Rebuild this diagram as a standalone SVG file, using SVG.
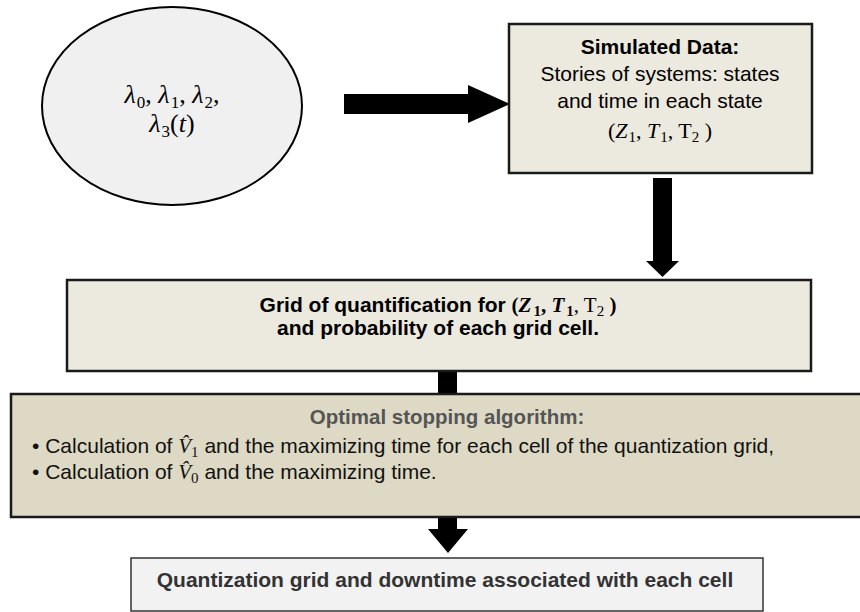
<svg xmlns="http://www.w3.org/2000/svg" width="860" height="612" viewBox="0 0 860 612">
<style>
.sans{font-family:"Liberation Sans",Arial,sans-serif;}
.math{font-family:"Liberation Serif","Times New Roman",serif;font-style:italic;}
.up{font-style:normal;}
.b{font-weight:bold;}
.box{stroke:#1a1a1a;stroke-width:2.5;}
.arrow{fill:#000;stroke:none;}
</style>
<rect width="860" height="612" fill="#fff"/>
<g id="connectors">
  <polygon class="arrow" points="344,94 468,94 468,85 510,104 468,123 468,114 344,114"/>
  <polygon class="arrow" points="653,178 672,178 672,261 679,261 662.5,277 646,261 653,261"/>
  <rect class="arrow" x="438" y="371" width="19" height="23"/>
  <polygon class="arrow" points="438,517 457,517 457,529 468,529 448,553 428,529 438,529"/>
</g>
<g id="node-rates">
  <ellipse cx="172" cy="106" rx="130" ry="99" fill="#f0f0f0" stroke="#000" stroke-width="2"/>
  <text class="math" x="172" y="103" font-size="26" text-anchor="middle">λ<tspan class="up" font-size="17" dx="1" dy="5">0</tspan><tspan class="up" dy="-5">, </tspan>λ<tspan class="up" font-size="17" dx="1" dy="5">1</tspan><tspan class="up" dy="-5">, </tspan>λ<tspan class="up" font-size="17" dx="1" dy="5">2</tspan><tspan class="up" dy="-5">,</tspan></text>
  <text class="math" x="172" y="132" font-size="26" text-anchor="middle">λ<tspan class="up" font-size="17" dx="1" dy="5">3</tspan><tspan dy="-5" class="up">(</tspan><tspan>t</tspan><tspan class="up">)</tspan></text>
</g>
<g id="node-simulated">
  <rect class="box" x="509" y="24" width="303" height="149" fill="#ece9df" stroke-width="2"/>
  <text class="sans b" x="660" y="54" font-size="21" text-anchor="middle">Simulated Data:</text>
  <text class="sans" x="660" y="81" font-size="21" text-anchor="middle">Stories of systems: states</text>
  <text class="sans" x="660" y="108" font-size="21" text-anchor="middle">and time in each state</text>
  <text class="math" x="660" y="138" font-size="22" text-anchor="middle"><tspan class="up">(</tspan>Z<tspan font-size="15" dx="1" dy="4" class="up">1</tspan><tspan dy="-4" class="up">, </tspan>T<tspan font-size="15" dx="1" dy="4" class="up">1</tspan><tspan dy="-4" class="up">, T</tspan><tspan font-size="15" dy="4" class="up">2</tspan><tspan dy="-4" class="up"> )</tspan></text>
</g>
<g id="node-grid">
  <rect class="box" x="67" y="280" width="744" height="91" fill="#ece9df"/>
  <text class="sans b" x="438" y="312" font-size="21" text-anchor="middle">Grid of quantification for <tspan class="math up">(</tspan><tspan class="math">Z</tspan><tspan class="math up" font-size="15" dx="2" dy="4">1</tspan><tspan class="math up" dy="-4">, </tspan><tspan class="math">T</tspan><tspan class="math up" font-size="15" dx="2" dy="4">1</tspan><tspan class="math up" dy="-4" font-weight="normal">, T</tspan><tspan class="math up" font-weight="normal" font-size="15" dy="4">2</tspan><tspan class="math up" dy="-4"> )</tspan></text>
  <text class="sans b" x="438" y="335" font-size="21" text-anchor="middle">and probability of each grid cell.</text>
</g>
<g id="node-optimal">
  <rect class="box" x="11" y="394" width="855" height="123" fill="#ddd9c4"/>
  <text class="sans b" x="447" y="424" font-size="20.5" fill="#555" text-anchor="middle">Optimal stopping algorithm:</text>
  <text class="sans" x="32" y="453" font-size="21" fill="#111">• Calculation of <tspan class="math">V̂</tspan><tspan class="math up" font-size="15" dy="4">1</tspan><tspan dy="-4"> and the maximizing time for each cell of the quantization grid,</tspan></text>
  <text class="sans" x="32" y="479" font-size="21" fill="#111">• Calculation of <tspan class="math">V̂</tspan><tspan class="math up" font-size="15" dy="4">0</tspan><tspan dy="-4"> and the maximizing time.</tspan></text>
</g>
<g id="node-output">
  <rect x="131" y="558" width="632" height="53" fill="#f2f2f2" stroke="#333" stroke-width="1.5"/>
  <text class="sans b" x="445" y="587" font-size="21" fill="#333" text-anchor="middle">Quantization grid and downtime associated with each cell</text>
</g>
</svg>
